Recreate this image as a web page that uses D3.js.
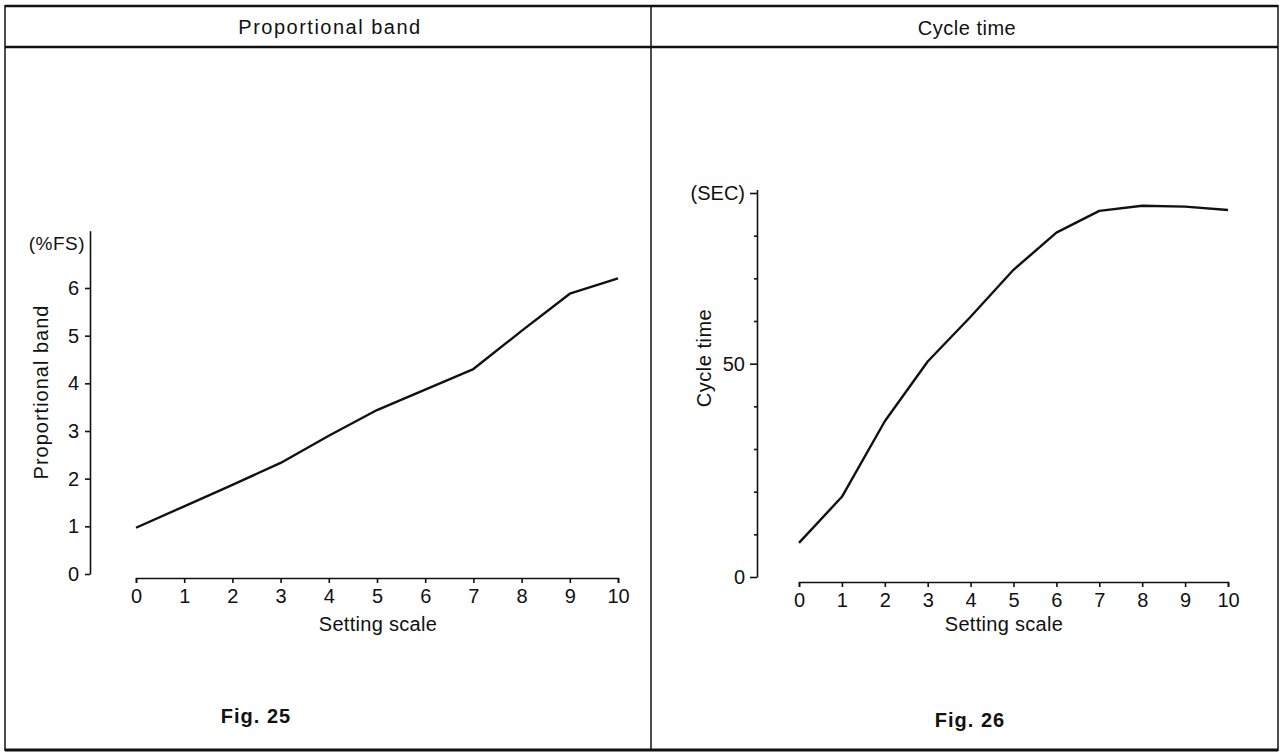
<!DOCTYPE html>
<html>
<head>
<meta charset="utf-8">
<script src="https://cdn.jsdelivr.net/npm/d3@7"></script>
<style>
  body { margin: 0; background: #fff; }
  svg text { font-family: "Liberation Sans", Arial, sans-serif; fill: #111; }
</style>
</head>
<body>
<svg id="chart" width="1282" height="755"></svg>
<script>
// setting scale 0..10 (same for both figures)
const settingScale = [0, 1, 2, 3, 4, 5, 6, 7, 8, 9, 10];

// Fig. 25 - proportional band (%FS)
const bandValues = [0.97, 1.42, 1.87, 2.33, 2.9, 3.44, 3.87, 4.3, 5.1, 5.88, 6.2];
const bandTicks = [0, 1, 2, 3, 4, 5, 6];

// Fig. 26 - cycle time (SEC)
const cycleValues = [8, 18.8, 36.5, 50.5, 61, 72, 80.7, 85.8, 87, 86.8, 86];
const cycleTicks = [0, 10, 20, 30, 40, 50, 60, 70, 80, 90];
const cycleLabels = { 0: "0", 50: "50", 90: "(SEC)" };

const svg = d3.select("#chart");
const INK = "#111";

svg.append("rect").attr("width", 1282).attr("height", 755).attr("fill", "#fff");

// frame of the page
function frameLine(x1, y1, x2, y2, w) {
  svg.append("line")
    .attr("x1", x1).attr("y1", y1).attr("x2", x2).attr("y2", y2)
    .attr("stroke", INK).attr("stroke-width", w);
}
frameLine(5, 6, 1278, 6, 2.5);
frameLine(5, 47, 1278, 47, 2.5);
frameLine(5, 750, 1278, 750, 3);
frameLine(5, 5, 5, 751, 1.5);
frameLine(1278, 5, 1278, 751, 1.5);
frameLine(651, 6, 651, 750, 1.5);

function addText(x, y, str, size, opts) {
  opts = opts || {};
  const t = svg.append("text")
    .attr("x", x).attr("y", y)
    .attr("text-anchor", opts.anchor || "middle")
    .style("font-size", size + "px")
    .style("letter-spacing", (opts.spacing == null ? 1 : opts.spacing) + "px")
    .style("font-weight", opts.bold ? "bold" : "normal")
    .text(str);
  if (opts.rotate) t.attr("transform", "rotate(-90," + x + "," + y + ")");
  return t;
}

// headers
addText(330, 34, "Proportional  band", 20, { spacing: 1.5 });
addText(967, 35, "Cycle  time", 20, { spacing: 0.5 });

// footers
addText(256, 723, "Fig. 25", 20, { bold: true });
addText(970, 727, "Fig. 26", 20, { bold: true });

function styleAxis(g, size) {
  g.selectAll("path, line").attr("stroke", INK).attr("stroke-width", 1.6);
  g.selectAll("text")
    .style("font-size", size + "px")
    .style("font-family", "'Liberation Sans', Arial, sans-serif")
    .attr("fill", INK);
}

const line = (xs, ys) => d3.line()
  .x((d, i) => xs(settingScale[i]))
  .y(d => ys(d));

// ---------- Fig. 25 ----------
const x25 = d3.scaleLinear().domain([0, 10]).range([136, 618]);
const y25 = d3.scaleLinear().domain([0, 6]).range([574, 288]);

svg.append("g")
  .attr("transform", "translate(0,578)")
  .call(d3.axisBottom(x25).tickValues(settingScale).tickSize(5).tickSizeOuter(5).tickPadding(6))
  .call(g => styleAxis(g, 20));

svg.append("g")
  .attr("transform", "translate(90,0)")
  .call(d3.axisLeft(y25.copy().domain([0, 7.2]).range([574, 574 - 7.2 * (574 - 288) / 6]))
    .tickValues(bandTicks).tickSize(5).tickSizeOuter(0).tickPadding(6))
  .call(g => styleAxis(g, 20));

addText(85, 250, "(%FS)", 19, { anchor: "end", spacing: 0.5 });
addText(48, 392, "Proportional  band", 20, { rotate: true });
addText(378, 631, "Setting  scale", 20, { spacing: 0.3 });

svg.append("path")
  .datum(bandValues)
  .attr("d", line(x25, y25))
  .attr("fill", "none")
  .attr("stroke", INK)
  .attr("stroke-width", 2.4)
  .attr("stroke-linejoin", "round");

// ---------- Fig. 26 ----------
const x26 = d3.scaleLinear().domain([0, 10]).range([799, 1228]);
const y26 = d3.scaleLinear().domain([0, 90]).range([577, 193]);

svg.append("g")
  .attr("transform", "translate(0,582)")
  .call(d3.axisBottom(x26).tickValues(settingScale).tickSize(5).tickSizeOuter(5).tickPadding(6))
  .call(g => styleAxis(g, 20));

const yAxis26 = svg.append("g")
  .attr("transform", "translate(757,0)")
  .call(d3.axisLeft(y26.copy().domain([0, 90.8]).range([577, 577 - 90.8 * (577 - 193) / 90]))
    .tickValues(cycleTicks).tickSize(7).tickSizeOuter(0).tickPadding(5)
    .tickFormat(d => cycleLabels[d] || ""))
  .call(g => styleAxis(g, 20));
// minor ticks are shorter
yAxis26.selectAll(".tick")
  .filter(d => !cycleLabels[d])
  .select("line").attr("x2", -3);

addText(711, 358, "Cycle  time", 20, { rotate: true, spacing: 0.5 });
addText(1004, 631, "Setting  scale", 20, { spacing: 0.3 });

svg.append("path")
  .datum(cycleValues)
  .attr("d", line(x26, y26))
  .attr("fill", "none")
  .attr("stroke", INK)
  .attr("stroke-width", 2.4)
  .attr("stroke-linejoin", "round");
</script>
</body>
</html>
